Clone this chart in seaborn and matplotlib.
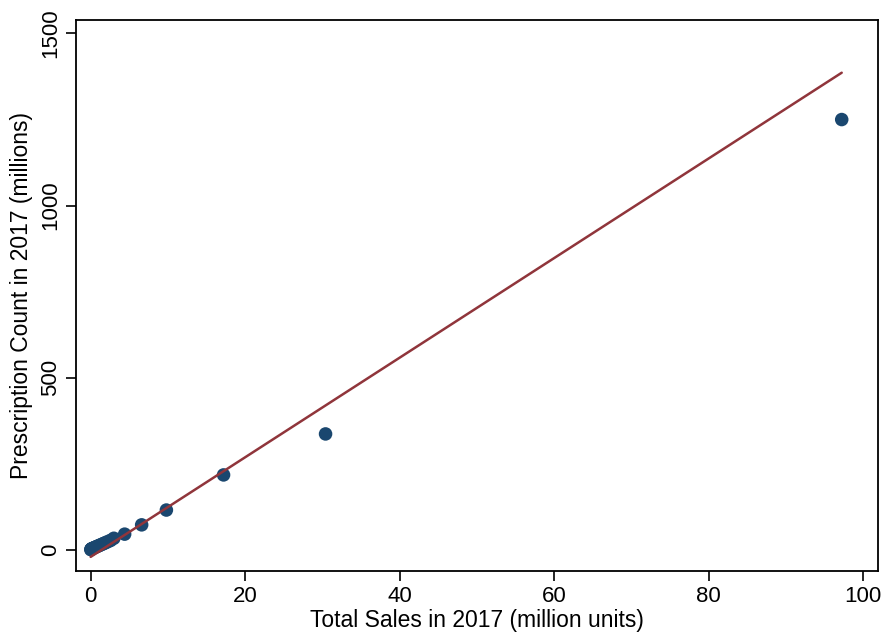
import matplotlib
matplotlib.use("Agg")
import matplotlib.pyplot as plt
import seaborn as sns
import pandas as pd

# data (million units, millions of prescriptions)
sales = [0.02, 0.05, 0.1, 0.15, 0.2, 0.3, 0.4, 0.5, 0.6, 0.75, 0.9, 1.05, 1.2,
         1.4, 1.6, 1.8, 2.0, 2.3, 2.6, 3.0, 4.4, 6.6, 9.8, 17.2, 30.4, 97.2]
rx = [1, 2, 3, 3.5, 4, 5, 6, 7, 8, 9.5, 11, 12.5, 14,
      16, 18, 20, 22, 25, 28, 34, 46, 73, 116, 218, 337, 1250]
fit_x = [0.0, 97.2]
fit_y = [-20.0, 1386.0]

xticks = [0, 20, 40, 60, 80, 100]
yticks = [0, 500, 1000, 1500]

df = pd.DataFrame({"sales": sales, "rx": rx})
fit = pd.DataFrame({"x": fit_x, "y": fit_y})

sns.set_theme(style="white")
plt.rcParams["font.family"] = ["Liberation Sans", "DejaVu Sans"]

fig = plt.figure(figsize=(8.86, 6.35), dpi=100)
ax = fig.add_axes([0.0861, 0.1008, 0.9049, 0.8682])

sns.scatterplot(data=df, x="sales", y="rx", ax=ax, color="#1a476f", s=95,
                edgecolor="none", zorder=2)
sns.lineplot(data=fit, x="x", y="y", ax=ax, color="#90353b", linewidth=1.8,
             zorder=3)

ax.set_xlim(-1.86, 101.9)
ax.set_ylim(-61, 1540)
ax.set_xticks(xticks)
ax.set_yticks(yticks)
ax.set_xticklabels([str(t) for t in xticks])
ax.set_yticklabels([str(t) for t in yticks], rotation=90, va="center")
ax.tick_params(axis="both", which="major", direction="out", length=7,
               width=1.2, color="black", labelsize=16, labelcolor="black",
               bottom=True, left=True, pad=4)
ax.set_xlabel("Total Sales in 2017 (million units)", fontsize=16.5,
              color="black", labelpad=1)
ax.set_ylabel("Prescription Count in 2017 (millions)", fontsize=16.5,
              color="black", labelpad=5)
for sp in ax.spines.values():
    sp.set_visible(True)
    sp.set_color("black")
    sp.set_linewidth(1.3)
ax.grid(False)

fig.savefig("out.png", dpi=100, facecolor="white")
